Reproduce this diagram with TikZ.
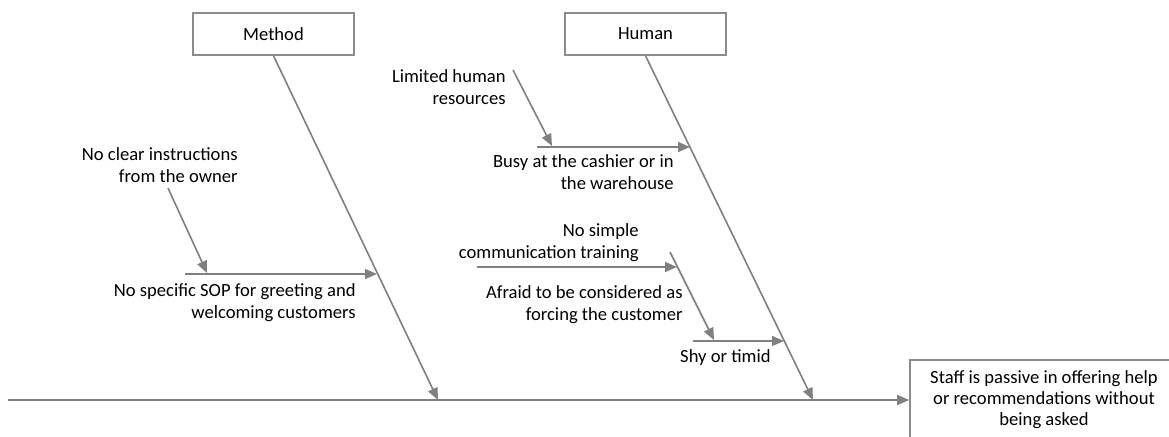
\documentclass[tikz,border=0pt]{standalone}
\usepackage{fontspec}
\setmainfont{Carlito}
\usetikzlibrary{arrows.meta}
\definecolor{boneg}{RGB}{128,128,128}
\definecolor{boxg}{RGB}{140,140,140}
\tikzset{
  bone/.style={draw=boneg, line width=0.8pt, -{Triangle[length=6pt,width=5pt]}},
  catbox/.style={draw=boxg, line width=0.8pt, minimum width=80.5pt, minimum height=21pt, inner sep=0pt, font=\fontsize{9.3}{11}\selectfont},
  cause/.style={align=right, inner sep=0pt, font=\fontsize{9.3}{11}\selectfont, anchor=east},
}
\begin{document}
\begin{tikzpicture}[x=0.5pt, y=-0.5pt]
\clip (0,0) rectangle (1169,436);
\fill[white] (0,0) rectangle (1169,436);

% effect box (runs off the right and bottom edge)
\node[draw=boxg, line width=0.8pt, minimum width=134pt, minimum height=40pt, inner sep=0pt,
      align=center, font=\fontsize{9.3}{10.5}\selectfont] (effect) at (1044,400)
  {Staff is passive in offering help\\or recommendations without\\being asked};

% main spine
\coordinate (tail) at (8,400);
\draw[bone] (tail) -- (effect.west);

% category boxes
\node[catbox] (method) at (273.5,34) {Method};
\node[catbox] (human) at (645.5,34) {Human};

% category bones
\coordinate (mtip) at (438,400);
\coordinate (htip) at (813,400);
\draw[bone] (method.south) -- (mtip);
\draw[bone] (human.south) -- (htip);

% Method causes
\coordinate (sopA) at (185,274);
\coordinate (sopB) at (377,274);
\draw[bone] (sopA) -- (sopB);
\coordinate (clrA) at (168,188);
\coordinate (clrB) at (207,273);
\draw[bone] (clrA) -- (clrB);
\node[cause] (clr) at (238,165) {No clear instructions\\from the owner};
\node[cause] (sop) at (356,303) {No specific SOP for greeting and\\welcoming customers};

% Human causes
\coordinate (busyA) at (537,147);
\coordinate (busyB) at (690,147);
\draw[bone] (busyA) -- (busyB);
\coordinate (limA) at (513,70);
\coordinate (limB) at (552,146);
\draw[bone] (limA) -- (limB);
\node[cause] (lim) at (506,87) {Limited human\\resources};
\node[cause] (busy) at (674,172.5) {Busy at the cashier or in\\the warehouse};

\coordinate (shyA) at (693,341);
\coordinate (shyB) at (784,341);
\draw[bone] (shyA) -- (shyB);
\coordinate (afrA) at (670,252);
\coordinate (afrB) at (714,340);
\draw[bone] (afrA) -- (afrB);
\coordinate (comA) at (477,267);
\coordinate (comB) at (677,267);
\draw[bone] (comA) -- (comB);
\node[cause] (com) at (639,242.5) {No simple\\communication training};
\node[cause] (afr) at (683,304.5) {Afraid to be considered as\\forcing the customer};
\node[cause] (shy) at (771,358) {Shy or timid};
\end{tikzpicture}
\end{document}
